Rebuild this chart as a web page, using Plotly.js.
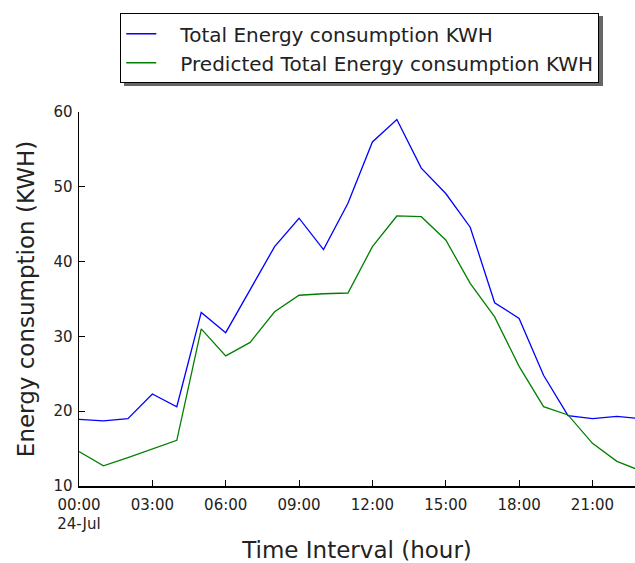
<!DOCTYPE html>
<html>
<head>
<meta charset="utf-8">
<script src="https://cdn.plot.ly/plotly-3.0.1.min.js"></script>
<style>html,body{margin:0;padding:0;background:#fff;}#chart{width:635px;height:563px;}</style>
</head>
<body>
<div id="chart"></div>
<script>
const hours = [0,1,2,3,4,5,6,7,8,9,10,11,12,13,14,15,16,17,18,19,20,21,22,23];
const actualKWH = [18.9,18.7,19.0,22.3,20.6,33.2,30.5,36.3,42.0,45.8,41.6,47.8,56.0,59.0,52.5,49.1,44.6,34.5,32.4,24.8,19.4,19.0,19.3,19.0];
const predictedKWH = [14.6,12.7,13.8,14.9,16.1,31.0,27.4,29.2,33.3,35.5,35.7,35.8,42.0,46.1,46.0,42.9,37.1,32.6,26.0,20.6,19.5,15.7,13.3,12.0];
const tickHours = [0,3,6,9,12,15,18,21];
const tickLabels = ["00:00<br>24-Jul","03:00","06:00","09:00","12:00","15:00","18:00","21:00"];
const seriesNames = ["Total Energy consumption KWH","Predicted Total Energy consumption KWH"];

const pad = "\u00a0\u00a0\u00a0";
const traces = [
  {x: hours, y: actualKWH, name: pad + seriesNames[0], type: 'scatter', mode: 'lines',
   line: {color: '#0000ff', width: 1.3}},
  {x: hours, y: predictedKWH, name: pad + seriesNames[1], type: 'scatter', mode: 'lines',
   line: {color: '#008000', width: 1.3}}
];

// pixel -> paper helpers for the legend shadow
const L = 79, R = 635, T = 112, B = 486;
const px = p => (p - L) / (R - L);
const py = p => (B - p) / (B - T);

const layout = {
  width: 635, height: 563,
  margin: {l: 79, r: 0, t: 112, b: 77},
  paper_bgcolor: '#fff', plot_bgcolor: '#fff',
  font: {family: 'DejaVu Sans', color: '#222'},
  showlegend: true,
  legend: {
    x: 0.505, xanchor: 'center', y: 1.264, yanchor: 'top',
    bgcolor: '#fff', bordercolor: '#000', borderwidth: 1,
    font: {size: 20, family: 'DejaVu Sans', color: '#222'}
  },
  shapes: [
    {type: 'rect', xref: 'paper', yref: 'paper', layer: 'above',
     x0: px(124), x1: px(603), y0: py(16), y1: py(86),
     fillcolor: '#666', line: {width: 0}}
  ],
  xaxis: {
    range: [0, 22.74], tickmode: 'array', tickvals: tickHours, ticktext: tickLabels,
    ticks: 'inside', ticklen: 6, tickcolor: '#000', showgrid: false, zeroline: false,
    showline: true, linecolor: '#000', linewidth: 1.5,
    ticklabelstandoff: 4,
    tickfont: {size: 15},
    title: {text: 'Time Interval (hour)', font: {size: 23}, standoff: 16}
  },
  yaxis: {
    range: [10, 60], dtick: 10, ticks: 'inside', ticklen: 6, tickcolor: '#000',
    showgrid: false, zeroline: false, showline: true, linecolor: '#000', linewidth: 1.5,
    ticklabelstandoff: 2,
    tickfont: {size: 15},
    title: {text: 'Energy consumption (KWH)', font: {size: 23}, standoff: 12}
  }
};

Plotly.newPlot('chart', traces, layout, {displayModeBar: false, staticPlot: true});
</script>
</body>
</html>
